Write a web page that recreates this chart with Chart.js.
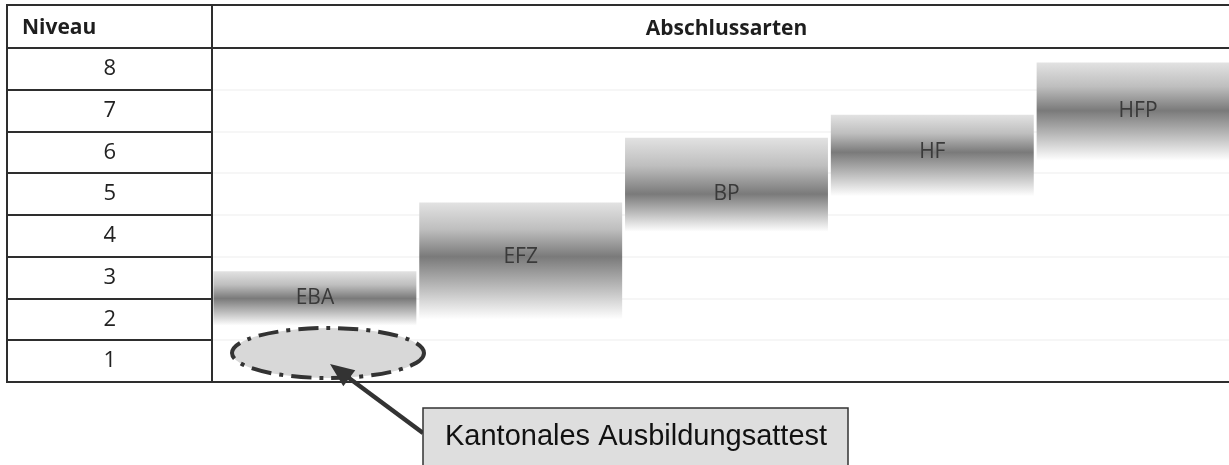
<!DOCTYPE html>
<html>
<head>
<meta charset="utf-8">
<script src="https://cdn.jsdelivr.net/npm/chart.js@4/dist/chart.umd.min.js"></script>
<style>
  html, body { margin: 0; padding: 0; background: #fff; overflow: hidden; }
  #chart { display: block; }
</style>
</head>
<body>
<canvas id="chart" width="1245" height="465"></canvas>
<script>
// Abschlussarten und ihre Niveau-Spannen
let categories = ['EBA', 'EFZ', 'BP', 'HF', 'HFP'];
let lowValues = [1.85, 2.0, 4.1, 4.95, 5.8];
let highValues = [3.15, 4.8, 6.35, 6.9, 8.15];
let centerValues = [2.5, 3.5, 5.0, 6.0, 7.0];
let levelLabels = ['1', '2', '3', '4', '5', '6', '7', '8'];
let levelBounds = [0.5, 1.5, 2.5, 3.5, 4.5, 5.5, 6.5, 7.5, 8.5];
let calloutText = 'Kantonales Ausbildungsattest';

let ranges = categories.map((c, i) => [lowValues[i], highValues[i]]);

function barGradient(context) {
    let chart = context.chart;
    let y = chart.scales.y;
    if (!chart.chartArea || !y) return '#bbb';
    let i = context.dataIndex;
    let top = y.getPixelForValue(highValues[i]);
    let bottom = y.getPixelForValue(lowValues[i]);
    let mid = y.getPixelForValue(centerValues[i]);
    let pos = Math.min(0.95, Math.max(0.05, (mid - top) / (bottom - top)));
    let g = chart.ctx.createLinearGradient(0, top, 0, bottom);
    g.addColorStop(0, 'rgb(226,226,226)');
    g.addColorStop(pos * 0.5, 'rgb(190,190,190)');
    g.addColorStop(pos, 'rgb(122,122,122)');
    g.addColorStop(pos + (1 - pos) * 0.5, 'rgb(188,188,188)');
    g.addColorStop(1, 'rgb(255,255,255)');
    return g;
}

// Beschriftung in den Balken
const barLabels = {
    id: 'barLabels',
    afterDatasetsDraw(chart) {
        let ctx = chart.ctx;
        let y = chart.scales.y;
        let meta = chart.getDatasetMeta(0);
        ctx.save();
        ctx.font = '21px "Open Sans"';
        ctx.fillStyle = '#3a3a3a';
        ctx.textAlign = 'center';
        ctx.textBaseline = 'middle';
        meta.data.forEach((bar, i) => {
            ctx.fillText(categories[i], bar.x, y.getPixelForValue(centerValues[i]));
        });
        ctx.restore();
    }
};

// Tabellenrahmen, Kopfzeile und Hinweis
const tableFrame = {
    id: 'tableFrame',
    afterDraw(chart) {
        let ctx = chart.ctx;
        let area = chart.chartArea;
        let y = chart.scales.y;
        let x0 = y.left, top = chart.scales.x.top;
        ctx.save();
        ctx.strokeStyle = '#2e2e2e';
        ctx.lineWidth = 2;
        ctx.strokeRect(x0, top, area.right - x0, area.bottom - top);
        ctx.beginPath();
        ctx.moveTo(area.left, top);
        ctx.lineTo(area.left, area.bottom);
        ctx.stroke();

        ctx.font = 'bold 21px "Open Sans"';
        ctx.fillStyle = '#1e1e1e';
        ctx.textAlign = 'left';
        ctx.textBaseline = 'middle';
        ctx.fillText('Niveau', x0 + 15, (top + area.top) / 2 + 1.5);

        // gestrichelte Ellipse bei Niveau 1
        let ex = 328, ey = 353;
        ctx.beginPath();
        ctx.ellipse(ex, ey, 96, 25, 0, 0, Math.PI * 2);
        ctx.fillStyle = '#d8d8d8';
        ctx.fill();
        ctx.setLineDash([20, 8, 4, 8]);
        ctx.lineWidth = 4;
        ctx.strokeStyle = '#333';
        ctx.stroke();
        ctx.setLineDash([]);

        // Pfeil
        let ax = 423, ay = 433, tx = 330, ty = 364;
        let ang = Math.atan2(ty - ay, tx - ax);
        ctx.beginPath();
        ctx.moveTo(ax, ay);
        ctx.lineTo(tx - 16 * Math.cos(ang), ty - 16 * Math.sin(ang));
        ctx.lineWidth = 4.5;
        ctx.strokeStyle = '#333';
        ctx.stroke();
        ctx.beginPath();
        ctx.moveTo(tx, ty);
        ctx.lineTo(tx - 24 * Math.cos(ang) + 10 * Math.sin(ang), ty - 24 * Math.sin(ang) - 10 * Math.cos(ang));
        ctx.lineTo(tx - 24 * Math.cos(ang) - 10 * Math.sin(ang), ty - 24 * Math.sin(ang) + 10 * Math.cos(ang));
        ctx.closePath();
        ctx.fillStyle = '#333';
        ctx.fill();

        // Hinweisbox
        ctx.fillStyle = '#dedede';
        ctx.fillRect(423, 408, 425, 70);
        ctx.lineWidth = 1.5;
        ctx.strokeStyle = '#333';
        ctx.strokeRect(423, 408, 425, 70);
        ctx.font = '29px "Liberation Sans", Arial';
        ctx.fillStyle = '#111';
        ctx.textBaseline = 'alphabetic';
        ctx.fillText(calloutText, 445, 445);
        ctx.restore();
    }
};

new Chart(document.getElementById('chart'), {
    type: 'bar',
    data: {
        labels: categories,
        datasets: [{
            data: ranges,
            backgroundColor: barGradient,
            borderWidth: 0,
            borderSkipped: false,
            barPercentage: 1,
            categoryPercentage: 0.986
        }]
    },
    options: {
        responsive: false,
        animation: false,
        devicePixelRatio: 1,
        layout: { padding: { left: 7, top: 5, right: 4, bottom: 83 } },
        plugins: {
            legend: { display: false },
            tooltip: { enabled: false }
        },
        scales: {
            x: {
                type: 'category',
                position: 'top',
                ticks: { display: false },
                grid: { display: false },
                border: { display: true, color: '#2e2e2e', width: 2 },
                title: {
                    display: true,
                    text: 'Abschlussarten',
                    color: '#1e1e1e',
                    font: { family: '"Open Sans"', size: 21, weight: 'bold' },
                    padding: { top: 11, bottom: 0 }
                },
                afterFit(scale) {
                    scale.height = 43;
                    scale.paddingLeft = 0;
                    scale.paddingRight = 0;
                }
            },
            y: {
                type: 'linear',
                min: 0.5,
                max: 8.5,
                afterBuildTicks(scale) {
                    scale.ticks = levelBounds.map(v => ({ value: v }));
                },
                ticks: {
                    autoSkip: false,
                    crossAlign: 'center',
                    padding: -109,
                    labelOffset: -21,
                    color: '#222',
                    font: { family: '"Open Sans"', size: 22 },
                    callback: (value, index) => levelLabels[index] || ''
                },
                grid: {
                    color: 'rgba(0,0,0,0.035)',
                    tickColor: '#2e2e2e',
                    tickLength: 205,
                    lineWidth: 2
                },
                border: { display: true, color: '#2e2e2e', width: 2 },
                afterFit(scale) {
                    scale.width = 205;
                    scale.paddingTop = 0;
                    scale.paddingBottom = 0;
                }
            }
        }
    },
    plugins: [barLabels, tableFrame]
});
</script>
</body>
</html>
